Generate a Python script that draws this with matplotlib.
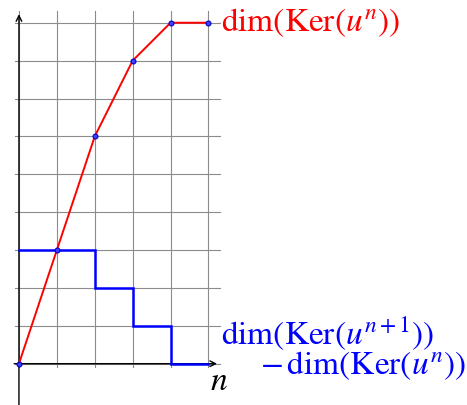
import matplotlib
matplotlib.use("Agg")
import matplotlib.pyplot as plt

# data
n_vals = [0, 1, 2, 3, 4, 5]
dim_ker = [0, 3, 6, 8, 9, 9]
diff_vals = [3, 3, 2, 1, 0]          # dim Ker(u^{n+1}) - dim Ker(u^n) on [n, n+1)
grid_x = [0, 1, 2, 3, 4, 5]
grid_y = [0, 1, 2, 3, 4, 5, 6, 7, 8, 9]

plt.rcParams['mathtext.fontset'] = 'stix'
plt.rcParams['font.family'] = 'STIXGeneral'

fig = plt.figure(figsize=(4.67, 4.05), dpi=100)
ax = fig.add_axes([0, 0, 1, 1])
ax.set_xlim(-0.5, 11.82)
ax.set_ylim(-1.09, 9.6)
ax.axis('off')

# grid
for gx in grid_x:
    ax.plot([gx, gx], [-0.1, 9.3], color='#8c8c8c', lw=0.8, zorder=1)
for gy in grid_y:
    ax.plot([-0.1, 5.3], [gy, gy], color='#8c8c8c', lw=0.8, zorder=1)

# axes with arrows
ax.annotate('', xy=(5.3, 0), xytext=(-0.2, 0),
            arrowprops=dict(arrowstyle='->', color='black', lw=1.0, mutation_scale=10))
ax.annotate('', xy=(0, 9.3), xytext=(0, -1.2),
            arrowprops=dict(arrowstyle='->', color='black', lw=1.0, mutation_scale=10))

# blue step
step_x = []
step_y = []
for i, v in enumerate(diff_vals):
    step_x += [n_vals[i], n_vals[i + 1]]
    step_y += [v, v]
ax.plot(step_x, step_y, color='#0000ff', lw=1.8, zorder=3, solid_joinstyle='miter')

# red line with points
ax.plot(n_vals, dim_ker, color='#ff0000', lw=1.4, zorder=4)
ax.plot(n_vals, dim_ker, linestyle='none', marker='o', ms=3.5,
        mfc='#4040ff', mec='#0000cc', mew=0.8, zorder=5)

ax.text(5.33, 9, r'$\mathrm{dim}(\mathrm{Ker}(u^{n}))$', color='#ff0000',
        fontsize=24, ha='left', va='center')
ax.text(5.33, 0.8, r'$\mathrm{dim}(\mathrm{Ker}(u^{n+1}))$', color='#0000ff',
        fontsize=24, ha='left', va='center')
ax.text(6.35, -0.05, r'$-\,\mathrm{dim}(\mathrm{Ker}(u^{n}))$', color='#0000ff',
        fontsize=24, ha='left', va='center')
ax.text(5.28, -0.5, r'$n$', color='black', fontsize=24, ha='center', va='center')

fig.savefig('out.png', dpi=100)
